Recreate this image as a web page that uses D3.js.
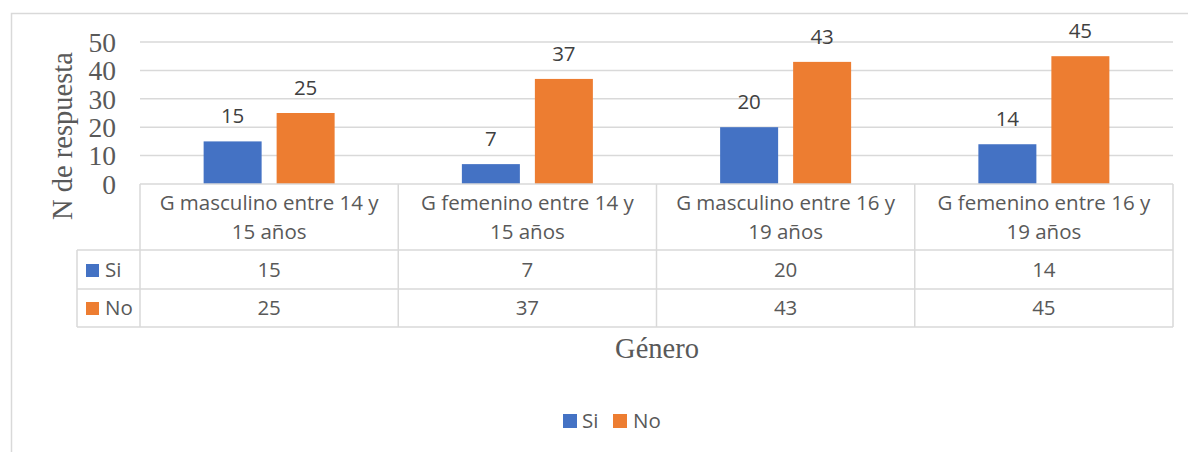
<!DOCTYPE html>
<html><head><meta charset="utf-8">
<script src="https://cdn.jsdelivr.net/npm/d3@7"></script>
<style>body{margin:0;background:#fff}svg{display:block}</style>
</head><body>
<svg id="c" width="1188" height="452"></svg>
<script>
const categories = [["G masculino entre 14 y","15 años"],["G femenino entre 14 y","15 años"],["G masculino entre 16 y","19 años"],["G femenino entre 16 y","19 años"]];
const seriesNames = ["Si","No"];
const siValues = [15,7,20,14];
const noValues = [25,37,43,45];
const yTicks = [0,10,20,30,40,50];
const colors = {Si:"#4472C4", No:"#ED7D31"};
const yTitle = "N de respuesta";
const xTitle = "Género";

const svg = d3.select("#c");
const L=140, R=1173, T=42, B=184;
const grid="#d9d9d9", txt="#595959", lab="#404040";
const sans="'Open Sans', sans-serif", serif="'Liberation Serif','Times New Roman',serif";

// outer border
svg.append("path").attr("d","M11.5,452 V13.5 H1188").attr("fill","none").attr("stroke",grid).attr("stroke-width",1.5);

const x0 = d3.scaleBand().domain(d3.range(categories.length)).range([L,R]);
const bw = x0.bandwidth();
const x1 = d3.scaleBand().domain(seriesNames).range([0,bw]).paddingInner(0.2055).paddingOuter(0.8716);
const y = d3.scaleLinear().domain([0,50]).range([B,T]);

// grid
svg.append("g").selectAll("line").data(yTicks.filter(d=>d>0)).join("line")
  .attr("x1",L).attr("x2",R).attr("y1",d=>y(d)).attr("y2",d=>y(d))
  .attr("stroke",grid).attr("stroke-width",1.5);

// y axis labels
const yAxis = d3.axisLeft(y).tickValues(yTicks).tickSize(0).tickPadding(0);
const ga = svg.append("g").attr("transform",`translate(116,0)`).call(yAxis);
ga.select(".domain").remove();
ga.selectAll("text").attr("font-family",serif).attr("font-size",27.5).attr("fill",txt).attr("dy","0.34em");

// bars
const data = seriesNames.map(s=>({s, vals: s==="Si"?siValues:noValues}));
const g = svg.append("g");
data.forEach(ser=>{
  g.append("g").selectAll("rect").data(ser.vals).join("rect")
    .attr("x",(d,i)=>x0(i)+x1(ser.s)).attr("width",x1.bandwidth())
    .attr("y",d=>y(d)).attr("height",d=>y(0)-y(d)).attr("fill",colors[ser.s]);
  g.append("g").selectAll("text").data(ser.vals).join("text")
    .attr("x",(d,i)=>x0(i)+x1(ser.s)+x1.bandwidth()/2).attr("y",d=>y(d)-18)
    .attr("text-anchor","middle").attr("font-family",sans).attr("font-size",20.5).attr("fill",lab)
    .text(d=>d);
});

// data table
const rowTop = B, hdrB = 250, siB = 289, noB = 327, legL = 77;
const tb = svg.append("g").attr("stroke",grid).attr("stroke-width",1.5).attr("fill","none");
tb.append("line").attr("x1",L).attr("x2",R).attr("y1",rowTop).attr("y2",rowTop);
[hdrB,siB,noB].forEach(yy=>tb.append("line").attr("x1",legL).attr("x2",R).attr("y1",yy).attr("y2",yy));
tb.append("line").attr("x1",legL).attr("x2",legL).attr("y1",hdrB).attr("y2",noB);
d3.range(categories.length+1).forEach(i=>{
  const xx = i<categories.length? x0(i) : R;
  tb.append("line").attr("x1",xx).attr("x2",xx).attr("y1",rowTop).attr("y2",noB);
});
const tt = svg.append("g").attr("font-family",sans).attr("font-size",20.5).attr("fill",txt).attr("text-anchor","middle");
categories.forEach((c,i)=>{
  const cx = x0(i)+bw/2;
  tt.append("text").attr("x",cx).attr("y",210).text(c[0]);
  tt.append("text").attr("x",cx).attr("y",239).text(c[1]);
  tt.append("text").attr("x",cx).attr("y",277).text(siValues[i]);
  tt.append("text").attr("x",cx).attr("y",315).text(noValues[i]);
});
[["Si",264,277],["No",302,315]].forEach(([s,ys,yt])=>{
  svg.append("rect").attr("x",86).attr("y",ys).attr("width",13).attr("height",13).attr("fill",colors[s]);
  svg.append("text").attr("x",105).attr("y",yt).attr("font-family",sans).attr("font-size",20.5).attr("fill",txt).text(s);
});

// titles
svg.append("text").attr("transform","translate(72,136) rotate(-90)").attr("text-anchor","middle")
  .attr("font-family",serif).attr("font-size",28.5).attr("fill",txt).text(yTitle);
svg.append("text").attr("x",657).attr("y",358).attr("text-anchor","middle")
  .attr("font-family",serif).attr("font-size",28.5).attr("fill",txt).text(xTitle);

// legend
const lg = svg.append("g");
[["Si",563,582],["No",613,633]].forEach(([s,xs,xt])=>{
  lg.append("rect").attr("x",xs).attr("y",414).attr("width",14).attr("height",14).attr("fill",colors[s]);
  lg.append("text").attr("x",xt).attr("y",428).attr("font-family",sans).attr("font-size",20.5).attr("fill",txt).text(s);
});
</script>
</body></html>
